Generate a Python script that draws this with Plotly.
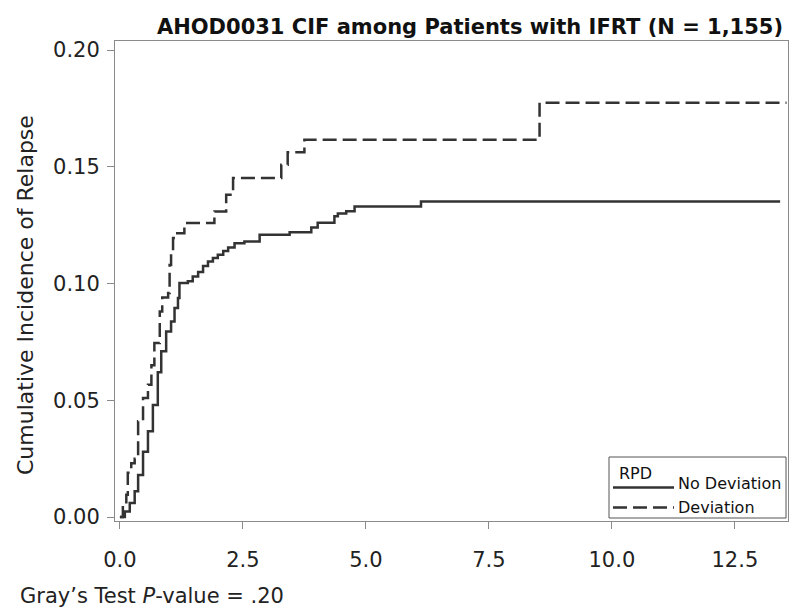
import plotly.graph_objects as go

# ---- data ----
dev_time = [0, 0.06, 0.13, 0.16, 0.23, 0.30, 0.37, 0.47, 0.57, 0.64, 0.70, 0.81, 0.86,
            0.98, 1.01, 1.04, 1.08, 1.14, 1.31, 1.92, 2.16, 2.30, 3.28, 3.41, 3.75, 8.53, 13.55]
dev_cif = [0, 0.005, 0.0095, 0.019, 0.023, 0.025, 0.041, 0.051, 0.0567, 0.065, 0.0745, 0.088, 0.094,
           0.096, 0.108, 0.114, 0.1195, 0.1216, 0.1259, 0.1309, 0.138, 0.1452, 0.1509, 0.1562, 0.1616,
           0.1775, 0.1775]

nodev_time = [0, 0.1, 0.2, 0.3, 0.37, 0.47, 0.57, 0.67, 0.77, 0.84, 0.94, 1.04, 1.11, 1.18, 1.21,
              1.38, 1.48, 1.59, 1.69, 1.79, 1.89, 1.99, 2.1, 2.2, 2.33, 2.53, 2.84, 3.45, 3.89, 4.02,
              4.36, 4.43, 4.6, 4.77, 6.12, 13.42]
nodev_cif = [0, 0.0024, 0.006, 0.011, 0.018, 0.028, 0.0367, 0.048, 0.062, 0.071, 0.0795, 0.0838,
             0.0895, 0.0938, 0.1002, 0.101, 0.103, 0.105, 0.1075, 0.1095, 0.111, 0.1123, 0.114,
             0.1155, 0.1173, 0.118, 0.1209, 0.122, 0.124, 0.126, 0.1288, 0.130, 0.131, 0.133,
             0.1352, 0.1352]

x_ticks = [0, 2.5, 5.0, 7.5, 10.0, 12.5]
y_ticks = [0, 0.05, 0.10, 0.15, 0.20]

series_names = ["No Deviation", "Deviation"]
title_text = "AHOD0031 CIF among Patients with IFRT (N = 1,155)"
y_title = "Cumulative Incidence of Relapse"
footnote = "Gray\u2019s Test <i>P</i>-value = .20"
legend_title = "RPD"

FONT = "DejaVu Sans"
LINE = "#333333"
FRAME = "#8a8a8a"
TXT = "#222222"
DASH = "14px,6px"

fig = go.Figure()
fig.add_trace(go.Scatter(x=nodev_time, y=nodev_cif, mode="lines", name=series_names[0],
                         showlegend=False,
                         line=dict(shape="hv", color=LINE, width=2.5)))
fig.add_trace(go.Scatter(x=dev_time, y=dev_cif, mode="lines", name=series_names[1],
                         showlegend=False,
                         line=dict(shape="hv", color=LINE, width=2.5, dash=DASH)))

W, H = 800, 609
L, R, T, B = 107, 780, 33, 513


def px_x(p):
    return (p - L) / (R - L)


def px_y(p):
    return (B - p) / (B - T)


# legend box drawn in paper space (matches the compact SAS legend)
shapes = [
    dict(type="rect", xref="paper", yref="paper",
         x0=px_x(601), x1=px_x(778), y0=px_y(510), y1=px_y(449),
         line=dict(color="#555555", width=1), fillcolor="white", layer="above"),
    dict(type="line", xref="paper", yref="paper",
         x0=px_x(605), x1=px_x(666), y0=px_y(479.5), y1=px_y(479.5),
         line=dict(color=LINE, width=2.5), layer="above"),
    dict(type="line", xref="paper", yref="paper",
         x0=px_x(605), x1=px_x(666), y0=px_y(499.5), y1=px_y(499.5),
         line=dict(color=LINE, width=2.5, dash=DASH), layer="above"),
]

annotations = [
    dict(text=y_title, textangle=-90, xref="paper", yref="paper",
         x=px_x(17), y=px_y(287), xanchor="center", yanchor="middle",
         showarrow=False, font=dict(size=22, color=TXT)),
    dict(text=footnote, xref="paper", yref="paper",
         x=px_x(10), y=px_y(588), xanchor="left", yanchor="middle",
         showarrow=False, font=dict(size=21, color=TXT)),
    dict(text=legend_title, xref="paper", yref="paper",
         x=px_x(609), y=px_y(465), xanchor="left", yanchor="middle",
         showarrow=False, font=dict(size=16, color="#111111")),
    dict(text=series_names[0], xref="paper", yref="paper",
         x=px_x(668), y=px_y(475), xanchor="left", yanchor="middle",
         showarrow=False, font=dict(size=16, color="#111111")),
    dict(text=series_names[1], xref="paper", yref="paper",
         x=px_x(668), y=px_y(499), xanchor="left", yanchor="middle",
         showarrow=False, font=dict(size=16, color="#111111")),
]

fig.update_layout(
    width=W, height=H,
    margin=dict(l=L, r=W - R, t=T, b=H - B),
    paper_bgcolor="white", plot_bgcolor="white",
    font=dict(family=FONT, size=21, color=TXT),
    title=dict(text="<b>" + title_text + "</b>", font=dict(family=FONT, size=21, color="#111111"),
               xref="container", yref="container", x=462 / W, y=1 - 19 / H,
               xanchor="center", yanchor="middle"),
    showlegend=False,
    xaxis=dict(range=[-0.1, 13.58], tickvals=x_ticks, tickformat=".1f",
               showgrid=False, zeroline=False, showline=True, mirror=True,
               linecolor=FRAME, linewidth=1, ticks="outside", ticklen=7,
               tickcolor=FRAME, tickfont=dict(size=21, color=TXT),
               ticklabelstandoff=13),
    yaxis=dict(range=[-0.0017, 0.2039], tickvals=y_ticks, tickformat=".2f",
               showgrid=False, zeroline=False, showline=True, mirror=True,
               linecolor=FRAME, linewidth=1, ticks="outside", ticklen=7,
               tickcolor=FRAME, tickfont=dict(size=21, color=TXT),
               ticklabelstandoff=3),
    shapes=shapes,
    annotations=annotations,
)

fig.write_html("out.html")
